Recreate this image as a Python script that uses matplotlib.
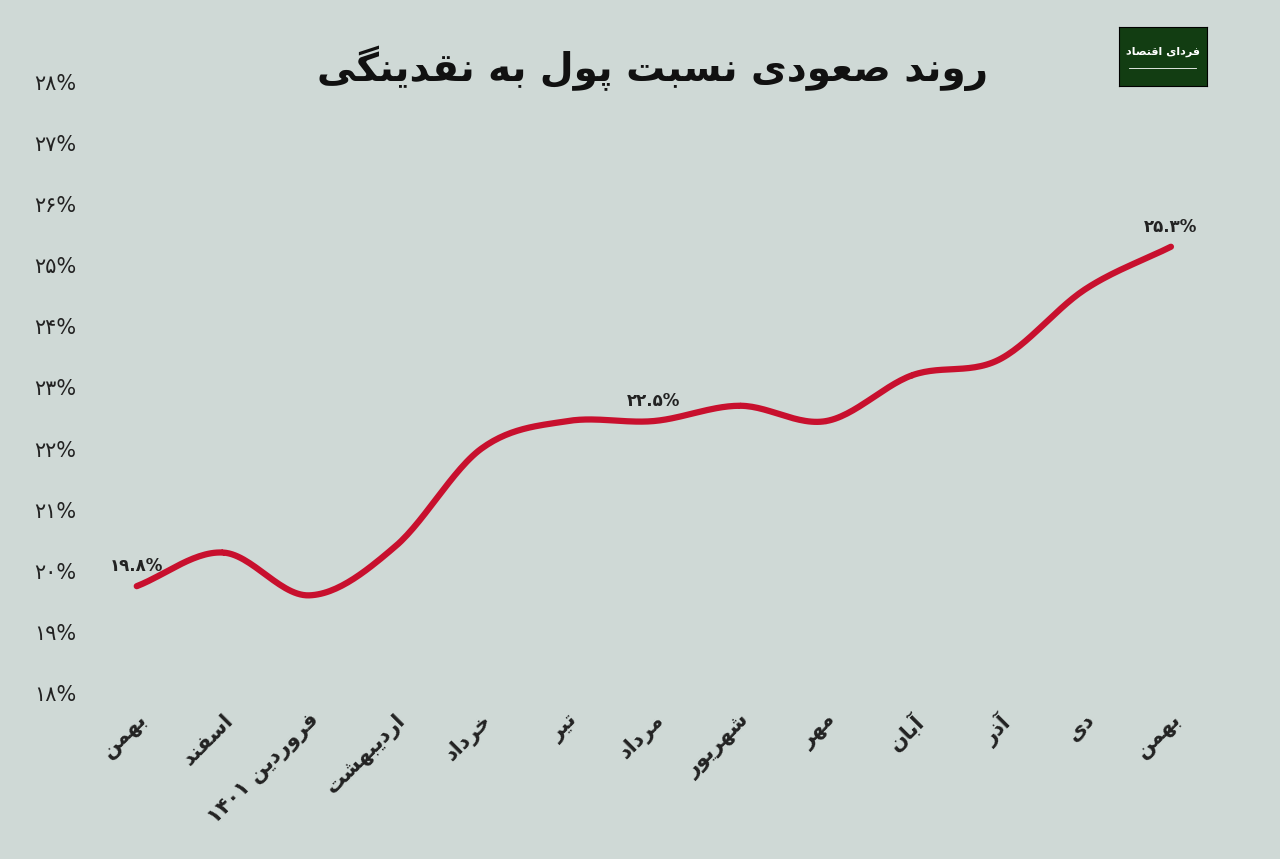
import re
import numpy as np
import matplotlib
matplotlib.use("Agg")
import matplotlib.pyplot as plt

months = ["بهمن", "اسفند", "فروردین ۱۴۰۱", "اردیبهشت", "خرداد", "تیر", "مرداد",
          "شهریور", "مهر", "آبان", "آذر", "دی", "بهمن"]
ratio = [19.75, 20.3, 19.6, 20.4, 22.0, 22.45, 22.45, 22.7, 22.45, 23.2, 23.45, 24.6, 25.3]
point_labels = {0: "۱۹.۸%", 6: "۲۲.۵%", 12: "۲۵.۳%"}
title = "روند صعودی نسبت پول به نقدینگی"
yticks = list(range(18, 29))

# isolated, final, initial, medial presentation forms
FORMS = {
    "ا": (0xFE8D, 0xFE8E, None, None), "آ": (0xFE81, 0xFE82, None, None),
    "ب": (0xFE8F, 0xFE90, 0xFE91, 0xFE92), "پ": (0xFB56, 0xFB57, 0xFB58, 0xFB59),
    "ت": (0xFE95, 0xFE96, 0xFE97, 0xFE98), "خ": (0xFEA5, 0xFEA6, 0xFEA7, 0xFEA8),
    "د": (0xFEA9, 0xFEAA, None, None), "ذ": (0xFEAB, 0xFEAC, None, None),
    "ر": (0xFEAD, 0xFEAE, None, None), "س": (0xFEB1, 0xFEB2, 0xFEB3, 0xFEB4),
    "ش": (0xFEB5, 0xFEB6, 0xFEB7, 0xFEB8), "ص": (0xFEB9, 0xFEBA, 0xFEBB, 0xFEBC),
    "ع": (0xFEC9, 0xFECA, 0xFECB, 0xFECC), "ف": (0xFED1, 0xFED2, 0xFED3, 0xFED4),
    "ق": (0xFED5, 0xFED6, 0xFED7, 0xFED8), "گ": (0xFB92, 0xFB93, 0xFB94, 0xFB95),
    "ل": (0xFEDD, 0xFEDE, 0xFEDF, 0xFEE0), "م": (0xFEE1, 0xFEE2, 0xFEE3, 0xFEE4),
    "ن": (0xFEE5, 0xFEE6, 0xFEE7, 0xFEE8), "ه": (0xFEE9, 0xFEEA, 0xFEEB, 0xFEEC),
    "و": (0xFEED, 0xFEEE, None, None), "ی": (0xFBFC, 0xFBFD, 0xFBFE, 0xFBFF),
}


def shape(text):
    out = []
    for i, ch in enumerate(text):
        if ch not in FORMS:
            out.append(ch)
            continue
        prev = text[i - 1] if i > 0 else ""
        nxt = text[i + 1] if i + 1 < len(text) else ""
        join_prev = prev in FORMS and FORMS[prev][2] is not None
        join_next = nxt in FORMS and FORMS[ch][2] is not None
        f = FORMS[ch]
        if join_prev and join_next:
            code = f[3]
        elif join_prev:
            code = f[1]
        elif join_next:
            code = f[2]
        else:
            code = f[0]
        out.append(chr(code))
    vis = "".join(out)[::-1]
    return re.sub(r"[۰-۹.%]+", lambda m: m.group(0)[::-1], vis)


def smooth(xs, ys, n=30):
    # Catmull-Rom curve through the data points
    px = np.concatenate([[2 * xs[0] - xs[1]], xs, [2 * xs[-1] - xs[-2]]])
    py = np.concatenate([[2 * ys[0] - ys[1]], ys, [2 * ys[-1] - ys[-2]]])
    rx, ry = [], []
    t = np.linspace(0, 1, n)
    for i in range(1, len(px) - 2):
        for p, r in ((px, rx), (py, ry)):
            p0, p1, p2, p3 = p[i - 1], p[i], p[i + 1], p[i + 2]
            r.extend(0.5 * (2 * p1 + (-p0 + p2) * t + (2 * p0 - 5 * p1 + 4 * p2 - p3) * t ** 2
                            + (-p0 + 3 * p1 - 3 * p2 + p3) * t ** 3))
    return rx, ry


def fa_digits(s):
    return s.translate(str.maketrans("0123456789", "۰۱۲۳۴۵۶۷۸۹"))


plt.rcParams["font.family"] = ["DejaVu Sans"]
bg = "#cfd9d6"
fig = plt.figure(figsize=(12.8, 8.59), dpi=100, facecolor=bg)
ax = fig.add_axes([0.09, 0.193, 0.845, 0.712], facecolor=bg)

x = np.arange(len(months))
sx, sy = smooth(x, np.array(ratio))
ax.plot(sx, sy, color="#c8102e", lw=4.5, solid_capstyle="round")
for i, lab in point_labels.items():
    ax.text(x[i], ratio[i] + 0.18, shape(lab), ha="center", va="bottom",
            fontsize=12, fontweight="bold", color="#222")

ax.set_xlim(-0.25, 12.3)
ax.set_ylim(18, 28)
ax.set_yticks(yticks)
ax.set_yticklabels([shape(fa_digits(f"{v}%")) for v in yticks], fontsize=15, color="#222")
ax.set_xticks(x)
ax.set_xticklabels([shape(m) for m in months], rotation=45, ha="right",
                   rotation_mode="anchor", fontsize=15, fontweight="bold", color="#222")
ax.tick_params(length=0, pad=12)
ax.yaxis.set_tick_params(pad=28)
for s in ax.spines.values():
    s.set_visible(False)

fig.text(0.51, 0.92, shape(title), ha="center", va="center", fontsize=28,
         fontweight="bold", color="#111")

# logo
lax = fig.add_axes([0.874, 0.9, 0.069, 0.068])
lax.set_facecolor("#123d12")
lax.set_xticks([])
lax.set_yticks([])
lax.text(0.5, 0.58, shape("فردای اقتصاد"), ha="center", va="center", color="white",
         fontsize=8, fontweight="bold", transform=lax.transAxes)
lax.plot([0.12, 0.88], [0.3, 0.3], color="white", lw=0.6, transform=lax.transAxes)

fig.savefig("out.png", dpi=100, facecolor=bg)
